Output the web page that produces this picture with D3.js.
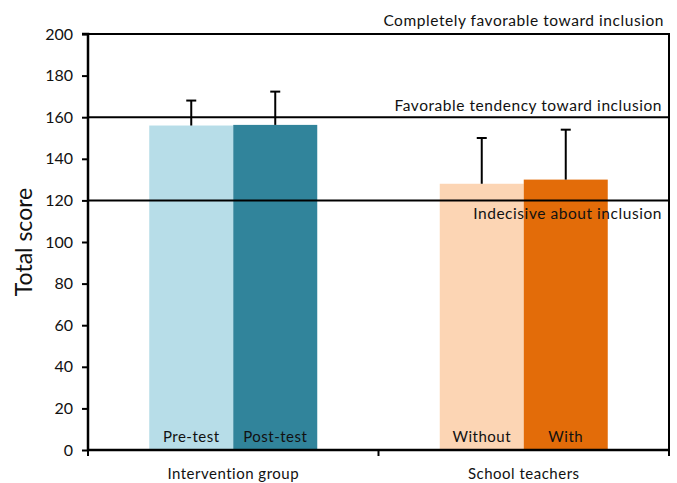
<!DOCTYPE html>
<html>
<head>
<meta charset="utf-8">
<script src="https://cdn.jsdelivr.net/npm/d3@7"></script>
<style>
  html, body { margin: 0; padding: 0; background: #fff; }
  svg { display: block; }
  text { font-family: Lato, "Open Sans", sans-serif; fill: #111; }
</style>
</head>
<body>
<svg id="chart" width="677" height="483"></svg>
<script>
// Groups and their paired conditions
const groups = ["Intervention group", "School teachers"];
const conditions = [
  ["Pre-test", "Post-test"],
  ["Without", "With"]
];
// Mean total scores and standard deviations per condition
const means = [
  [156, 156.3],
  [128, 130]
];
const sds = [
  [12, 16],
  [22, 24]
];
const barColors = [
  ["#B7DDE8", "#31849B"],
  ["#FCD5B4", "#E36C09"]
];
// Reference levels of the attitude scale
const refLevels = [200, 160, 120];
const refLabels = [
  "Completely favorable toward inclusion",
  "Favorable tendency toward inclusion",
  "Indecisive about inclusion"
];
const yTicks = [0, 20, 40, 60, 80, 100, 120, 140, 160, 180, 200];

const svg = d3.select("#chart");
const plotLeft = 88, plotRight = 669, plotTop = 34, plotBottom = 450;

const x = d3.scaleBand().domain(groups).range([plotLeft, plotRight]).padding(0);
const y = d3.scaleLinear().domain([0, 200]).range([plotBottom, plotTop]);
const barW = 84;

// Bars
groups.forEach((g, gi) => {
  const cx = x(g) + x.bandwidth() / 2;
  conditions[gi].forEach((c, ci) => {
    const x0 = ci === 0 ? cx - barW : cx;
    svg.append("rect")
      .attr("x", x0).attr("width", barW)
      .attr("y", y(means[gi][ci]))
      .attr("height", y(0) - y(means[gi][ci]))
      .attr("fill", barColors[gi][ci]);
    svg.append("text")
      .attr("x", x0 + barW / 2).attr("y", 442)
      .attr("text-anchor", "middle")
      .attr("font-size", 15)
      .attr("letter-spacing", 0.5)
      .text(c);
  });
});

// Error bars (upper whisker only)
groups.forEach((g, gi) => {
  const cx = x(g) + x.bandwidth() / 2;
  conditions[gi].forEach((c, ci) => {
    const bx = ci === 0 ? cx - barW / 2 : cx + barW / 2;
    const yt = y(means[gi][ci] + sds[gi][ci]);
    svg.append("line")
      .attr("x1", bx).attr("x2", bx)
      .attr("y1", y(means[gi][ci])).attr("y2", yt)
      .attr("stroke", "#000").attr("stroke-width", 2);
    svg.append("line")
      .attr("x1", bx - 5).attr("x2", bx + 5)
      .attr("y1", yt).attr("y2", yt)
      .attr("stroke", "#000").attr("stroke-width", 2);
  });
});

// Reference lines with labels
const labelY = [26, 111, 219];
refLevels.forEach((v, i) => {
  svg.append("line")
    .attr("x1", plotLeft).attr("x2", plotRight)
    .attr("y1", y(v)).attr("y2", y(v))
    .attr("stroke", "#000").attr("stroke-width", 2);
  svg.append("text")
    .attr("x", i === 0 ? 664 : 662).attr("y", labelY[i])
    .attr("text-anchor", "end")
    .attr("font-size", 15.5)
    .attr("letter-spacing", 0.55)
    .text(refLabels[i]);
});

// Right frame line
svg.append("line")
  .attr("x1", plotRight).attr("x2", plotRight)
  .attr("y1", y(200) - 1).attr("y2", plotBottom + 6)
  .attr("stroke", "#000").attr("stroke-width", 2);

// Y axis
const yAxis = svg.append("g")
  .attr("transform", `translate(${plotLeft},0)`)
  .call(d3.axisLeft(y).tickValues(yTicks).tickSize(6).tickPadding(9));
yAxis.select(".domain").attr("stroke", "#000").attr("stroke-width", 2.5)
  .attr("d", `M-6,${y(200)}H0V${y(0)}`);
yAxis.selectAll(".tick line").attr("stroke", "#000").attr("stroke-width", 2);
yAxis.selectAll(".tick text")
  .attr("font-size", 16)
  .attr("font-family", "Lato, 'Open Sans', sans-serif")
  .attr("fill", "#111");

// X axis with category ticks at band edges
svg.append("line")
  .attr("x1", plotLeft).attr("x2", plotRight)
  .attr("y1", plotBottom).attr("y2", plotBottom)
  .attr("stroke", "#000").attr("stroke-width", 2.5);
const edges = [plotLeft, x(groups[1]), plotRight];
edges.forEach(ex => {
  svg.append("line")
    .attr("x1", ex).attr("x2", ex)
    .attr("y1", plotBottom).attr("y2", plotBottom + 6)
    .attr("stroke", "#000").attr("stroke-width", 2);
});
groups.forEach(g => {
  svg.append("text")
    .attr("x", x(g) + x.bandwidth() / 2).attr("y", 479)
    .attr("text-anchor", "middle")
    .attr("font-size", 15)
    .attr("letter-spacing", 0.5)
    .text(g);
});

// Y axis title
svg.append("text")
  .attr("transform", `translate(32,${(plotTop + plotBottom) / 2}) rotate(-90)`)
  .attr("text-anchor", "middle")
  .attr("font-size", 23)
  .text("Total score");
</script>
</body>
</html>
